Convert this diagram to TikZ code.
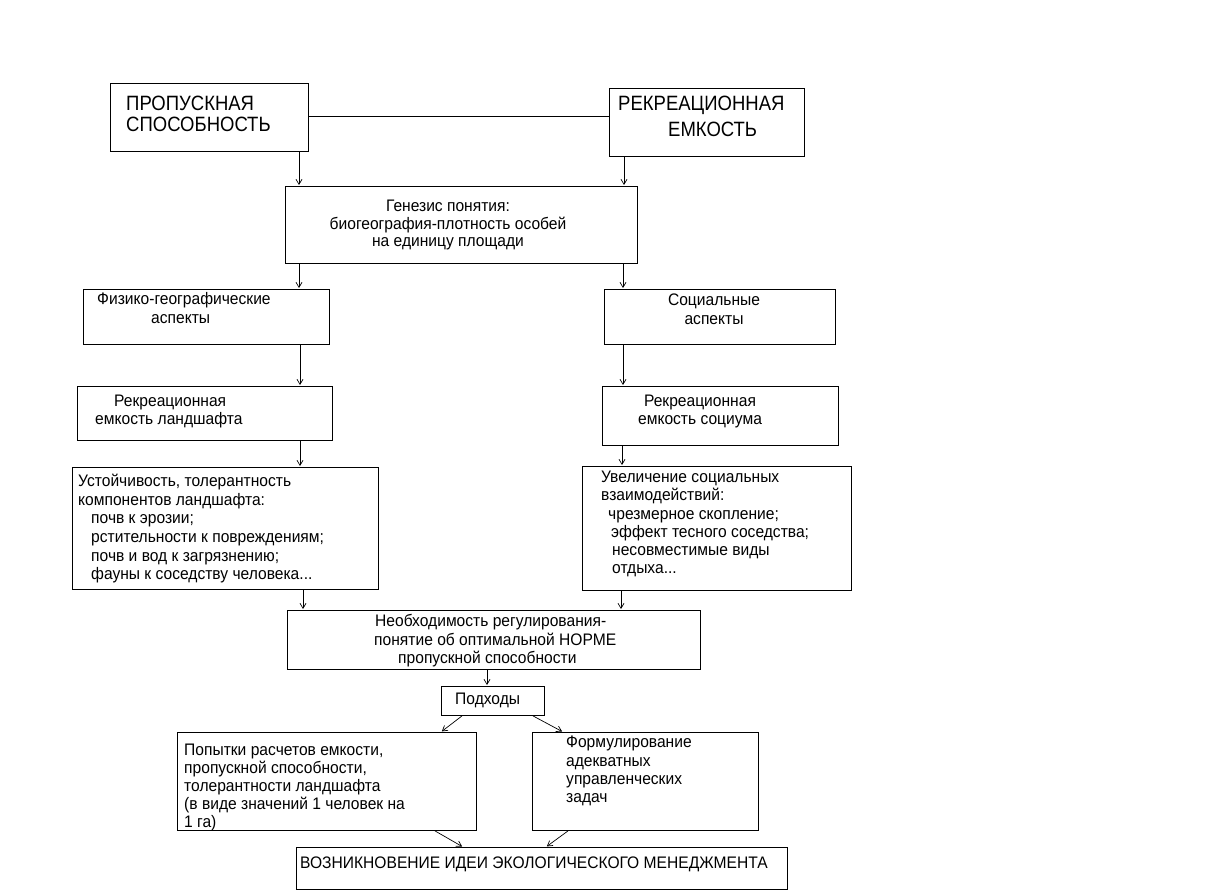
\documentclass[tikz,border=0pt]{standalone}
\usepackage{fontspec}
\usepackage{graphicx}
\setmainfont{Liberation Sans}
\usetikzlibrary{arrows.meta}
\newcommand\Lt[4]{\scalebox{1}[#1]{\fontsize{#2}{#3}\selectfont\begin{tabular}{@{}l@{}}#4\end{tabular}}}
\newcommand\Ct[4]{\scalebox{1}[#1]{\fontsize{#2}{#3}\selectfont\begin{tabular}{@{}c@{}}#4\end{tabular}}}
\begin{document}
\begin{tikzpicture}[x=1pt,y=-1pt,
  box/.style={draw,line width=0.9pt,anchor=north west,inner sep=0pt},
  txt/.style={anchor=west,inner sep=0pt,yshift=-2pt},
  ctxt/.style={anchor=center,inner sep=0pt,yshift=-2pt},
  arr/.style={-{Straight Barb[length=5pt,width=6pt]},line width=0.7pt,shorten >=1pt},
  link/.style={line width=0.8pt}]
\useasboundingbox (0,0) rectangle (1218,893);
\fill[white] (0,0) rectangle (1218,893);

% boxes
\node[box,minimum width=198pt,minimum height=68pt] (b1) at (110,83) {};
\node[box,minimum width=195pt,minimum height=68pt] (b2) at (609,88) {};
\node[box,minimum width=352pt,minimum height=77pt] (gen) at (285,186) {};
\node[box,minimum width=246pt,minimum height=55pt] (fiz) at (83,289) {};
\node[box,minimum width=231pt,minimum height=55pt] (soc) at (604,289) {};
\node[box,minimum width=255pt,minimum height=54pt] (rl) at (77,386) {};
\node[box,minimum width=236pt,minimum height=59pt] (rs) at (602,386) {};
\node[box,minimum width=306pt,minimum height=122pt] (ust) at (72,467) {};
\node[box,minimum width=269pt,minimum height=124pt] (uvl) at (582,466) {};
\node[box,minimum width=413pt,minimum height=59pt] (neo) at (287,610) {};
\node[box,minimum width=103pt,minimum height=29pt] (pod) at (441,686) {};
\node[box,minimum width=299pt,minimum height=98pt] (pop) at (177,732) {};
\node[box,minimum width=226pt,minimum height=98pt] (form) at (532,732) {};
\node[box,minimum width=491pt,minimum height=42pt] (voz) at (296,847) {};

% texts
\node[txt] (t1) at (126,115) {\Lt{1.12}{18.5}{19}{ПРОПУСКНАЯ\\СПОСОБНОСТЬ}};
\node[txt] (t2) at (618,116) {\Lt{1.12}{18.5}{23}{РЕКРЕАЦИОННАЯ\\\hspace*{50pt}ЕМКОСТЬ}};
\node[ctxt] (tgen) at (448,223.5) {\Ct{1.07}{15.6}{16.4}{Генезис понятия:\\биогеография-плотность особей\\на единицу площади}};
\node[txt] (tfiz) at (97,308.5) {\Lt{1.07}{15.6}{17.8}{Физико-географические\\\hspace*{54pt}аспекты}};
\node[ctxt] (tsoc) at (714,309.5) {\Ct{1.07}{15.6}{17.8}{Социальные\\аспекты}};
\node[txt] (trl) at (95,410) {\Lt{1.07}{15.6}{16.8}{\hspace*{19pt}Рекреационная\\емкость ландшафта}};
\node[ctxt] (trs) at (700,410) {\Ct{1.07}{15.6}{16.8}{Рекреационная\\емкость социума}};
\node[txt] (tust) at (78,527.5) {\Lt{1.07}{15.6}{17.4}{Устойчивость, толерантность\\компонентов ландшафта:\\
  \hspace*{13pt}почв к эрозии;\\\hspace*{13pt}рстительности к повреждениям;\\
  \hspace*{13pt}почв и вод к загрязнению;\\\hspace*{13pt}фауны к соседству человека...}};
\node[txt] (tuvl) at (601,522.5) {\Lt{1.07}{15.6}{17}{Увеличение социальных\\взаимодействий:\\
  \hspace*{7pt}чрезмерное скопление;\\\hspace*{10pt}эффект тесного соседства;\\
  \hspace*{11pt}несовместимые виды\\\hspace*{11pt}отдыха...}};
\node[txt] (tneo) at (374,639.5) {\Lt{1.07}{15.6}{17.3}{\hspace*{1pt}Необходимость регулирования-\\понятие об оптимальной НОРМЕ\\\hspace*{24pt}пропускной способности}};
\node[txt] (tpod) at (455,698.5) {\Lt{1.07}{15.6}{17.3}{Подходы}};
\node[txt] (tpop) at (184,786) {\Lt{1.07}{15.6}{16.8}{Попытки расчетов емкости,\\пропускной способности,\\толерантности ландшафта\\(в виде значений 1 человек на\\1 га)}};
\node[txt] (tform) at (566,769.5) {\Lt{1.07}{15.6}{17.1}{Формулирование\\адекватных\\управленческих\\задач}};
\node[txt] (tvoz) at (300,862.5) {\Lt{1.07}{15.6}{17.3}{ВОЗНИКНОВЕНИЕ ИДЕИ ЭКОЛОГИЧЕСКОГО МЕНЕДЖМЕНТА}};

% connectors
\draw[link] (b1.east |- 0,116) -- (b2.west |- 0,116);
\draw[arr] (b1.south -| 299,0) -- (gen.north -| 299,0);
\draw[arr] (b2.south -| 624,0) -- (gen.north -| 624,0);
\draw[arr] (gen.south -| 299,0) -- (fiz.north -| 299,0);
\draw[arr] (gen.south -| 623,0) -- (soc.north -| 623,0);
\draw[arr] (fiz.south -| 300,0) -- (rl.north -| 300,0);
\draw[arr] (soc.south -| 623,0) -- (rs.north -| 623,0);
\draw[arr] (rl.south -| 300,0) -- (ust.north -| 300,0);
\draw[arr] (rs.south -| 622,0) -- (uvl.north -| 622,0);
\draw[arr] (ust.south -| 303,0) -- (neo.north -| 303,0);
\draw[arr] (uvl.south -| 621,0) -- (neo.north -| 621,0);
\draw[arr] (neo.south -| 487,0) -- (pod.north -| 487,0);
\draw[arr] (pod.south -| 462,0) -- (pop.north -| 441,0);
\draw[arr] (pod.south -| 533,0) -- (form.north -| 563,0);
\draw[arr] (pop.south -| 435,0) -- (voz.north -| 463,0);
\draw[arr] (form.south -| 568,0) -- (voz.north -| 546,0);
\end{tikzpicture}
\end{document}
